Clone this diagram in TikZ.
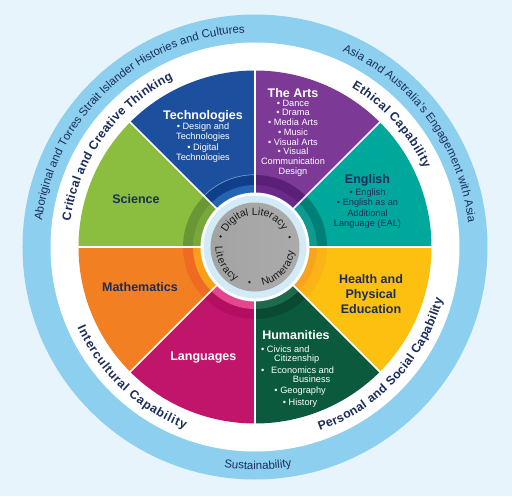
\documentclass[tikz,border=0pt]{standalone}
\usepackage{fontspec}
\setmainfont{Liberation Sans}
\usetikzlibrary{decorations.text}
\definecolor{bgc}{HTML}{E8F4FB}
\definecolor{ringc}{HTML}{8CCFEE}
\definecolor{navy}{HTML}{1B2D5B}
\definecolor{rimc}{HTML}{D3EBF6}
\definecolor{techM}{HTML}{1C4F9E}\definecolor{techA}{HTML}{2563B3}\definecolor{techB}{HTML}{103F8A}
\definecolor{artsM}{HTML}{7C3A96}\definecolor{artsA}{HTML}{6A2A88}\definecolor{artsB}{HTML}{5A1F76}
\definecolor{engM}{HTML}{00A89C}\definecolor{engA}{HTML}{0D9A90}\definecolor{engB}{HTML}{007F77}
\definecolor{hpeM}{HTML}{FDC010}\definecolor{hpeA}{HTML}{F8A51D}\definecolor{hpeB}{HTML}{FBB316}
\definecolor{humM}{HTML}{0C5A3D}\definecolor{humA}{HTML}{1D6B4C}\definecolor{humB}{HTML}{0A4A32}
\definecolor{langM}{HTML}{C1146B}\definecolor{langA}{HTML}{E4478E}\definecolor{langB}{HTML}{B30E60}
\definecolor{mathM}{HTML}{F27F22}\definecolor{mathA}{HTML}{F9A01B}\definecolor{mathB}{HTML}{EF6B21}
\definecolor{sciM}{HTML}{8BBD3F}\definecolor{sciA}{HTML}{78A83A}\definecolor{sciB}{HTML}{6A9735}
\newcommand\ttlfont{\bfseries\fontsize{12.5}{15}\selectfont}
\newcommand\capfont{\bfseries\fontsize{12.3}{12}\selectfont}
\newcommand\ccpfont{\fontsize{11.5}{12}\selectfont}
\newcommand\litfont{\fontsize{10.5}{11}\selectfont}
\tikzset{
  ttl/.style={font=\ttlfont, align=center, inner sep=0pt},
  subtxt/.style={align=center, inner sep=0pt},
  hl/.style={font=\fontsize{9.2}{10}\selectfont, inner sep=0pt, anchor=west, text height=6.7pt, text depth=2pt, text=white},
  arctext/.style={decorate, decoration={text along path, text align={fit to path}, text color=navy, text={#1}}},
  innertext/.style={decorate, decoration={text along path, text align={fit to path}, text color=black!90, text={#1}}}
}
\begin{document}
\begin{tikzpicture}[x=1pt,y=1pt]
\useasboundingbox (-255,-249) rectangle (257,247);
\fill[bgc] (-255,-249) rectangle (257,247);
\fill[ringc] (0,0) circle (232.5);
\fill[white] (0,0) circle (204.5);
% sectors
\foreach \a/\m/\ca/\cb in {90/techM/techA/techB, 45/artsM/artsA/artsB, 0/engM/engA/engB, -45/hpeM/hpeA/hpeB, -90/humM/humA/humB, -135/langM/langA/langB, 180/mathM/mathA/mathB, 135/sciM/sciA/sciB}{
  \fill[\m] (0,0) -- (\a:176.5) arc[start angle=\a, end angle={\a+45}, radius=176.5] -- cycle;
  \fill[\cb] (\a:54) arc[start angle=\a, end angle={\a+45}, radius=54] -- ({\a+45}:72) arc[start angle={\a+45}, end angle=\a, radius=72] -- cycle;
  \fill[\ca] (\a:54) arc[start angle=\a, end angle={\a+45}, radius=54] -- ({\a+45}:62) arc[start angle={\a+45}, end angle=\a, radius=62] -- cycle;
}
\draw[techA!60!white, line width=0.6pt] (90:72.3) arc[start angle=90, end angle=135, radius=72.3];
\foreach \a in {0,45,...,315}{
  \draw[white, line width=1.5pt] (\a:50) -- (\a:177);
}
\fill[white] (0,0) circle (54.5);
\fill[rimc] (0,0) circle (51.5);
\shade[left color=black!36, middle color=black!10, right color=black!33] (0,0) circle (44.5);
% ring texts
\path[arctext={|\capfont|Critical and Creative Thinking}] (172:186.5) arc[start angle=172, end angle=116, radius=186.5];
\path[arctext={|\capfont|Ethical Capability}] (58.8:186.5) arc[start angle=58.8, end angle=24.9, radius=186.5];
\path[arctext={|\capfont|Intercultural Capability}] (204.4:195) arc[start angle=204.4, end angle=248.9, radius=195];
\path[arctext={|\capfont|Personal and Social Capability}] (-70.6:195) arc[start angle=-70.6, end angle=-15.6, radius=195];
\path[arctext={|\ccpfont|Aboriginal and Torres Strait Islander Histories and Cultures}] (173:214.5) arc[start angle=173, end angle=93.3, radius=214.5];
\path[arctext={|\ccpfont|Asia and Australia's Engagement with Asia}] (66:214.5) arc[start angle=66, end angle=6.5, radius=214.5];
\path[arctext={|\ccpfont|Sustainability}] (-98:222.5) arc[start angle=-98, end angle=-80.5, radius=222.5];
% inner circle texts
\path[innertext={|\litfont|Digital Literacy}] (153:32) arc[start angle=153, end angle=30, radius=32];
\path[innertext={|\litfont|Literacy}] (179:39.5) arc[start angle=179, end angle=240, radius=39.5];
\path[innertext={|\litfont|Numeracy}] (-79:39.5) arc[start angle=-79, end angle=-6, radius=39.5];
\fill[black!90] (163:36) circle (1.3) (16:36) circle (1.3) (-99:35.5) circle (1.3);
% sector labels
\node[ttl, text=white] (tech) at (-52,131) {Technologies};
\node[subtxt, text=white, font=\fontsize{9.2}{10.5}\selectfont] (techsub) at (-52,104.3) {• Design and\\Technologies\\• Digital\\Technologies};
\node[ttl, text=white] (arts) at (38,154.3) {The Arts};
\node[subtxt, text=white, font=\fontsize{9.2}{9.7}\selectfont] (artssub) at (38,109) {• Dance\\• Drama\\• Media Arts\\• Music\\• Visual Arts\\• Visual\\Communication\\Design};
\node[ttl, text=navy] (eng) at (112.5,67) {English};
\node[subtxt, text=navy, font=\fontsize{9.2}{10.2}\selectfont] (engsub) at (112.5,38.4) {• English\\• English as an\\Additional\\Language (EAL)};
\node[ttl, text=navy] (sci) at (-119,47.7) {Science};
\node[ttl, text=navy] (math) at (-115,-40.3) {Mathematics};
\node[ttl, text=white] (lang) at (-51.7,-111) {Languages};
\node[ttl, text=navy] (hpe) at (116,-46.7) {Health and\\Physical\\Education};
\node[ttl, text=white] (hum) at (41,-88.3) {Humanities};
\node[hl] (h1) at (6,-102.7) {• Civics and};
\node[hl] (h2) at (19,-112.5) {Citizenship};
\node[hl] (h3a) at (6,-123.7) {•};
\node[hl] (h3) at (16,-123.7) {Economics and};
\node[hl] (h4) at (37.7,-132.7) {Business};
\node[hl] (h5) at (19.3,-143.7) {• Geography};
\node[hl] (h6) at (27.7,-155.7) {• History};
\end{tikzpicture}
\end{document}
